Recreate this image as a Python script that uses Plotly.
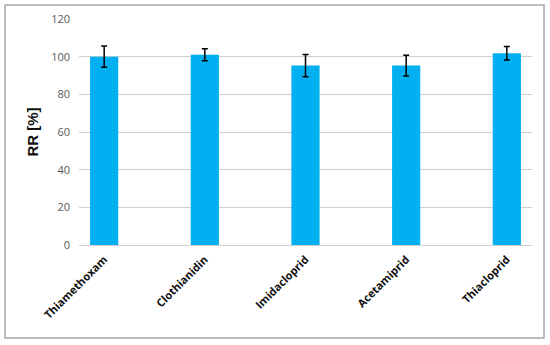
import plotly.graph_objs as go

compounds = ['Thiamethoxam', 'Clothianidin', 'Imidacloprid', 'Acetamiprid', 'Thiacloprid']
rr = [100.0, 101.0, 95.3, 95.3, 101.8]
rr_err = [5.6, 3.2, 5.9, 5.5, 3.6]
y_ticks = [0, 20, 40, 60, 80, 100, 120]

# plot area in pixels: x 79..532, y 19..245 of a 550x345 page
L, R, T, B = 79, 18, 19, 100
pw, ph = 550 - L - R, 345 - T - B


def px(x):
    return (x - L) / pw


def py(y):
    return (345 - B - y) / ph


fig = go.Figure(
    data=[
        go.Bar(
            x=compounds, y=rr, width=0.28,
            marker={'color': '#00B0F0', 'line': {'width': 0}},
            error_y={'type': 'data', 'array': rr_err, 'color': '#000000',
                     'thickness': 1.5, 'width': 3},
        )
    ],
    layout=go.Layout(
        width=550, height=345,
        margin={'l': L, 'r': R, 't': T, 'b': B, 'autoexpand': False},
        paper_bgcolor='white', plot_bgcolor='white',
        showlegend=False,
        font={'family': 'Open Sans, Liberation Sans, sans-serif', 'color': '#595959'},
        xaxis={
            'range': [-0.25, 4.25], 'showgrid': False, 'showline': False,
            'tickangle': -45, 'ticks': '', 'automargin': False, 'ticklabelstandoff': 5,
            'tickfont': {'size': 11, 'color': '#111111', 'family': 'Open Sans, sans-serif', 'weight': 'bold'},
        },
        yaxis={
            'range': [0, 120], 'tickvals': y_ticks, 'showgrid': True, 'automargin': False,
            'gridcolor': '#CFCFCF', 'gridwidth': 1, 'zeroline': True,
            'zerolinecolor': '#CFCFCF', 'zerolinewidth': 1,
            'ticks': '', 'ticklabelstandoff': 8,
            'tickfont': {'size': 11, 'color': '#595959'},
            'title': {'text': '<b>RR [%]</b>', 'standoff': 8,
                      'font': {'size': 15, 'color': '#111111', 'family': 'Liberation Sans, Arial, sans-serif'}},
        },
        shapes=[{
            'type': 'rect', 'xref': 'paper', 'yref': 'paper',
            'x0': px(5), 'x1': px(544), 'y0': py(338), 'y1': py(5),
            'line': {'color': '#A6A6A6', 'width': 1.5}, 'layer': 'below',
        }],
    ))

# page has a default 8px body margin; drop it so the figure sits at 0,0
fig.write_html("out.html", config={'displayModeBar': False},
               post_script="document.body.style.margin='0';")
